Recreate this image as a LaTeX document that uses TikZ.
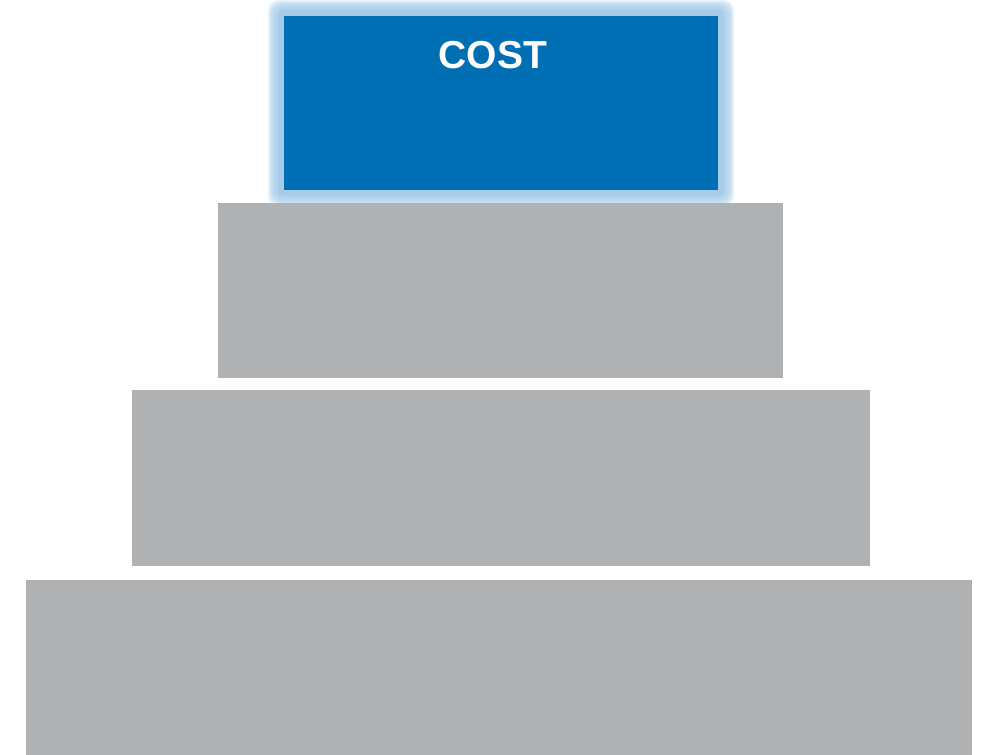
\documentclass[tikz,border=0pt]{standalone}
\usepackage{fontspec}
\setmainfont{Liberation Sans}
\definecolor{costblue}{HTML}{006EB3}
\definecolor{glowblue}{HTML}{A6CCEA}
\definecolor{stepgray}{HTML}{B0B1B3}
\tikzset{
  graybox/.style={fill=stepgray, draw=none},
  bluebox/.style={fill=costblue, draw=none},
}
\begin{document}
\begin{tikzpicture}[x=1pt,y=-1pt]
\useasboundingbox (0,0) rectangle (996,755);
% glow
\foreach \i in {1,...,12} {
  \fill[glowblue, opacity=0.2, rounded corners=10pt] (284-4-\i,16-4-\i) rectangle (718+4+\i,190+4+\i);
}
\fill[glowblue, rounded corners=4pt] (278,10) rectangle (724,196);
\fill[bluebox] (284,16) rectangle (718,190);
\node[text=white, font=\bfseries\fontsize{39}{39}\selectfont] (cost) at (493,55) {COST};
\fill[graybox] (218,203) rectangle (783,378);
\fill[graybox] (132,390) rectangle (870,566);
\fill[graybox] (26,580) rectangle (972,755);
\end{tikzpicture}
\end{document}
